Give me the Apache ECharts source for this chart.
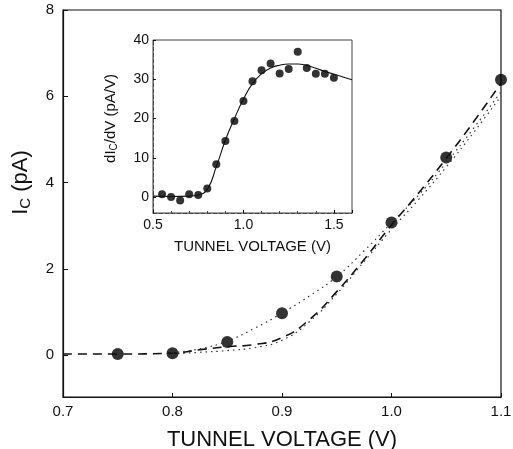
<!DOCTYPE html>
<html>
<head>
<meta charset="utf-8">
<script src="https://cdn.jsdelivr.net/npm/echarts@6/dist/echarts.min.js"></script>
<style>
html,body{margin:0;padding:0;background:#fff;}
#c{width:513px;height:449px;}
</style>
</head>
<body>
<div id="c"></div>
<script>
// ---- Main plot data: collector current Ic (pA) vs tunnel voltage (V)
var mainVoltage = [0.75, 0.80, 0.85, 0.90, 0.95, 1.00, 1.05, 1.10];
var mainCurrent = [0.00, 0.02, 0.28, 0.95, 1.80, 3.06, 4.57, 6.38];

// Theory curves
var dashedV = [0.70, 0.75, 0.80, 0.825, 0.85, 0.875, 0.90, 0.925, 0.95, 0.975, 1.00, 1.025, 1.05, 1.075, 1.10];
var dashedI = [0.00, 0.00, 0.02, 0.10, 0.17, 0.22, 0.38, 0.80, 1.45, 2.20, 3.00, 3.75, 4.55, 5.40, 6.30];
var dotUpV = [0.80, 0.825, 0.85, 0.875, 0.90, 0.925, 0.95, 0.975, 1.00, 1.025, 1.05, 1.075, 1.10];
var dotUpI = [0.03, 0.12, 0.30, 0.60, 0.95, 1.35, 1.80, 2.40, 3.05, 3.70, 4.45, 5.25, 6.10];
var dotLowV = [0.80, 0.825, 0.85, 0.875, 0.90, 0.925, 0.95, 0.975, 1.00, 1.025, 1.05, 1.075, 1.10];
var dotLowI = [0.00, 0.04, 0.08, 0.15, 0.32, 0.75, 1.40, 2.15, 2.90, 3.60, 4.35, 5.15, 6.00];

var mainXTicks = [0.7, 0.8, 0.9, 1.0, 1.1];
var mainYTicks = [0, 2, 4, 6, 8];

// ---- Inset data: dIc/dV (pA/V) vs tunnel voltage (V)
var insetVoltage = [0.55, 0.60, 0.65, 0.70, 0.75, 0.80, 0.85, 0.90, 0.95, 1.00,
                    1.05, 1.10, 1.15, 1.20, 1.25, 1.30, 1.35, 1.40, 1.45, 1.50];
var insetDeriv = [0.8, 0.1, -0.8, 0.8, 0.6, 2.2, 8.4, 14.3, 19.4, 24.5,
                  29.5, 32.3, 34.0, 31.5, 32.6, 37.0, 32.9, 31.4, 31.4, 30.4];
var insetCurveV = [0.50, 0.60, 0.70, 0.75, 0.80, 0.85, 0.90, 0.95, 1.00, 1.05, 1.10,
                   1.15, 1.20, 1.25, 1.30, 1.35, 1.40, 1.45, 1.50, 1.55, 1.60];
var insetCurveD = [0.3, 0.2, 0.3, 0.6, 2.0, 7.8, 14.5, 20.0, 25.0, 28.9, 31.4,
                   32.9, 33.6, 33.9, 33.9, 33.5, 32.8, 32.0, 31.3, 30.6, 29.9];
var insetXTicks = [0.5, 1.0, 1.5];
var insetYTicks = [0, 10, 20, 30, 40];

function zip(a, b) { return a.map(function (v, i) { return [v, b[i]]; }); }

var FONT = 'Liberation Sans, Arial, Helvetica, sans-serif';
var INK = '#111';
var NB = {containLabel: false, outerBoundsMode: 'none'};
function g(o) { return Object.assign({}, NB, o); }

var chart = echarts.init(document.getElementById('c'), null, {renderer: 'canvas'});
chart.setOption({
  backgroundColor: '#fff',
  animation: false,
  grid: [
    g({left: 63, right: 12, top: 10, bottom: 52, show: true, borderColor: INK, borderWidth: 1.2, backgroundColor: 'transparent'}),
    g({left: 63, right: 12, top: 10, bottom: 94}),
    g({left: 153, top: 40, right: 161, bottom: 236, show: true, borderColor: '#444', borderWidth: 1, backgroundColor: '#fff'}),
    g({left: 153, top: 40, right: 161, bottom: 252})
  ],
  xAxis: [
    {gridIndex: 0, type: 'value', min: 0.7, max: 1.1, interval: 0.1,
     axisLine: {onZero: false, lineStyle: {color: INK, width: 1.2}},
     axisTick: {inside: true, length: 4, lineStyle: {color: INK}},
     splitLine: {show: false},
     axisLabel: {color: INK, fontFamily: FONT, fontSize: 15, margin: 7,
                 formatter: function (v) { return v.toFixed(1); }},
     name: 'TUNNEL VOLTAGE (V)', nameLocation: 'middle', nameGap: 32,
     nameTextStyle: {color: INK, fontFamily: FONT, fontSize: 22}},
    {gridIndex: 1, type: 'value', min: 0.7, max: 1.1, show: false},
    {gridIndex: 2, type: 'value', min: 0.5, max: 1.6, interval: 0.5,
     axisLine: {onZero: false, lineStyle: {color: '#444', width: 1, type: 'dashed'}},
     axisTick: {inside: true, length: 3, lineStyle: {color: INK}},
     minorTick: {show: true, splitNumber: 5, length: 2, lineStyle: {color: '#444'}},
     splitLine: {show: false},
     axisLabel: {color: INK, fontFamily: FONT, fontSize: 14, margin: 5,
                 formatter: function (v) { return v.toFixed(1); }},
     name: 'TUNNEL VOLTAGE (V)', nameLocation: 'middle', nameGap: 26,
     nameTextStyle: {color: INK, fontFamily: FONT, fontSize: 15}},
    {gridIndex: 3, type: 'value', min: 0.5, max: 1.6, show: false}
  ],
  yAxis: [
    {gridIndex: 0, type: 'value', min: -1, max: 8,
     axisLine: {show: true, onZero: false, lineStyle: {color: INK, width: 1.2}},
     axisTick: {show: false}, axisLabel: {show: false}, splitLine: {show: false}},
    {gridIndex: 1, type: 'value', min: 0, max: 8, interval: 2,
     axisLine: {show: false},
     axisTick: {show: true, inside: true, length: 5, lineStyle: {color: INK}},
     splitLine: {show: false},
     axisLabel: {color: INK, fontFamily: FONT, fontSize: 15, margin: 9},
     name: 'I{s|C} (pA)', nameLocation: 'middle', nameGap: 30,
     nameTextStyle: {color: INK, fontFamily: FONT, fontSize: 22,
       rich: {s: {fontFamily: FONT, fontSize: 15, color: INK, padding: [10, 0, 0, 0]}}}},
    {gridIndex: 2, type: 'value', min: -4, max: 40,
     axisLine: {show: true, onZero: false, lineStyle: {color: '#444', width: 1, type: 'dashed'}},
     axisTick: {show: false}, axisLabel: {show: false}, splitLine: {show: false}},
    {gridIndex: 3, type: 'value', min: 0, max: 40, interval: 10,
     axisLine: {show: false},
     axisTick: {show: true, inside: true, length: 3, lineStyle: {color: INK}},
     splitLine: {show: false},
     axisLabel: {color: INK, fontFamily: FONT, fontSize: 14, margin: 4},
     name: 'dI{s|C}/dV (pA/V)', nameLocation: 'middle', nameGap: 34,
     nameTextStyle: {color: INK, fontFamily: FONT, fontSize: 15,
       rich: {s: {fontFamily: FONT, fontSize: 10, color: INK, padding: [6, 0, 0, 0]}}}}
  ],
  series: [
    {type: 'line', xAxisIndex: 0, yAxisIndex: 0, data: zip(dashedV, dashedI), smooth: true,
     showSymbol: false, lineStyle: {color: INK, width: 1.6, type: [9, 6]}},
    {type: 'line', xAxisIndex: 0, yAxisIndex: 0, data: zip(dotUpV, dotUpI), smooth: true,
     showSymbol: false, lineStyle: {color: '#333', width: 1.2, type: [1.5, 4]}},
    {type: 'line', xAxisIndex: 0, yAxisIndex: 0, data: zip(dotLowV, dotLowI), smooth: true,
     showSymbol: false, lineStyle: {color: '#333', width: 1.2, type: [1.5, 4]}},
    {type: 'scatter', xAxisIndex: 0, yAxisIndex: 0, data: zip(mainVoltage, mainCurrent),
     symbol: 'circle', symbolSize: 12, itemStyle: {color: '#000'}},
    {type: 'line', xAxisIndex: 2, yAxisIndex: 2, data: zip(insetCurveV, insetCurveD), smooth: true,
     showSymbol: false, lineStyle: {color: INK, width: 1.1}},
    {type: 'scatter', xAxisIndex: 2, yAxisIndex: 2, data: zip(insetVoltage, insetDeriv),
     symbol: 'circle', symbolSize: 8, itemStyle: {color: '#000'}}
  ]
});
</script>
</body>
</html>
